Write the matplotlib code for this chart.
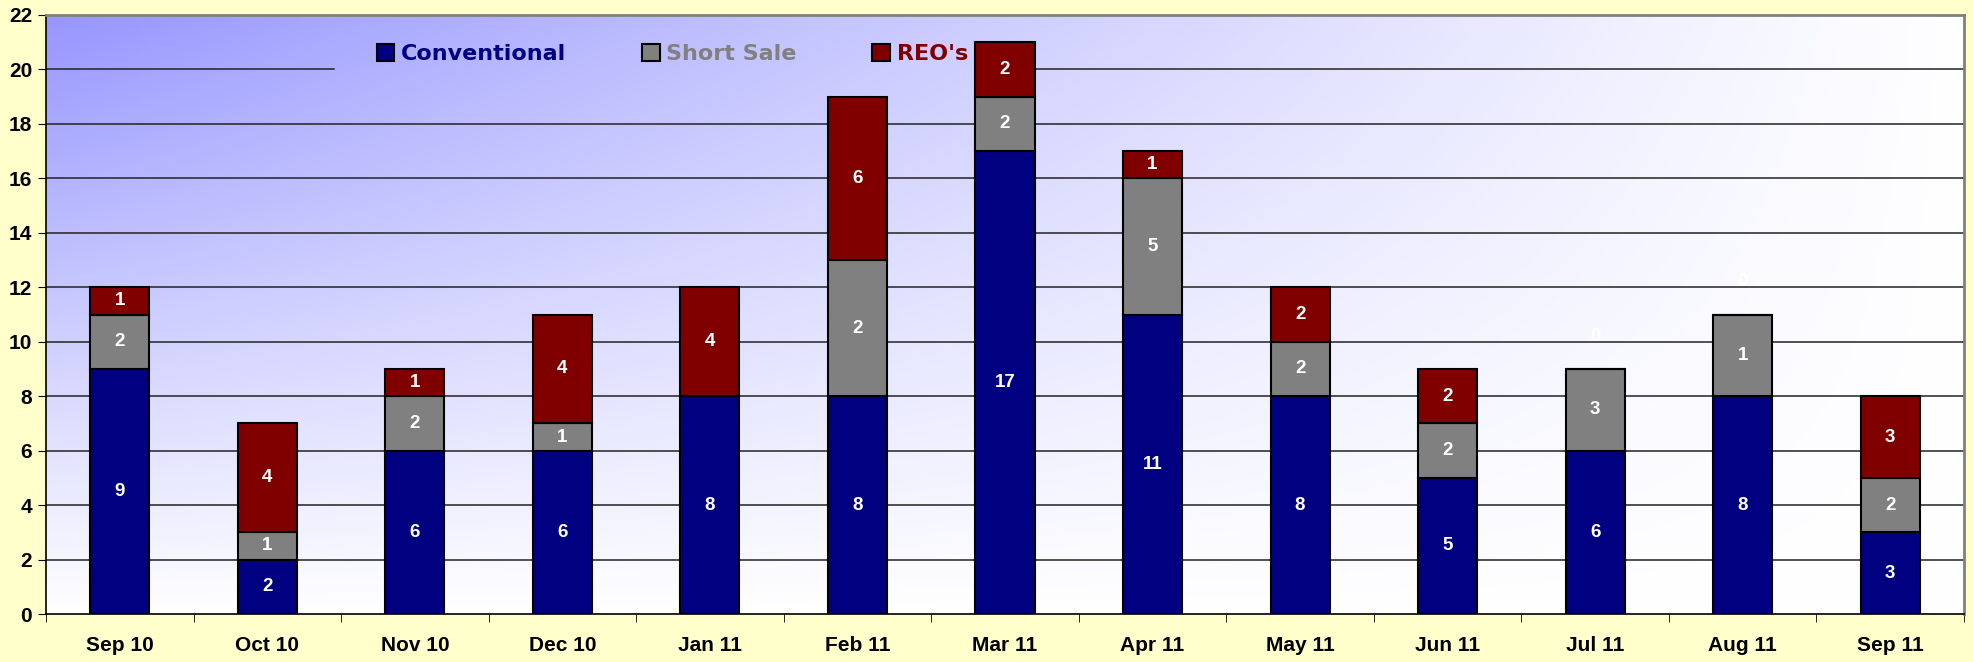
import matplotlib.pyplot as plt
import numpy as np

months = ['Sep 10', 'Oct 10', 'Nov 10', 'Dec 10', 'Jan 11', 'Feb 11', 'Mar 11',
          'Apr 11', 'May 11', 'Jun 11', 'Jul 11', 'Aug 11', 'Sep 11']
conventional = [9, 2, 6, 6, 8, 8, 17, 11, 8, 5, 6, 8, 3]
short_sale = [2, 1, 2, 1, 0, 5, 2, 5, 2, 2, 3, 3, 2]
reo = [1, 4, 1, 4, 4, 6, 2, 1, 2, 2, 0, 0, 3]
# labels as printed on the chart (a few don't match the bar heights)
short_labels = ['2', '1', '2', '1', '', '2', '2', '5', '2', '2', '3', '1', '2']
reo_labels = ['1', '4', '1', '4', '4', '6', '2', '1', '2', '2', '0', '0', '3']

NAVY = '#000080'
GREY = '#808080'
MAROON = '#800000'

plt.rcParams['font.family'] = ['Liberation Sans', 'DejaVu Sans']

fig = plt.figure(figsize=(19.73, 6.62), dpi=100, facecolor='#FFFFCC')
ax = fig.add_axes([46 / 1973, 48 / 662, 1918 / 1973, 599 / 662])

x = np.arange(len(months))
ax.set_xlim(-0.5, len(months) - 0.5)

# gradient background, dark lavender top-left fading to white
gx, gy = np.meshgrid(np.linspace(0, 1, 400), np.linspace(0, 1, 200))
blend = np.clip((1 - gx) ** 1.1 * (1 - gy) ** 1.0, 0, 1)
c0 = np.array([150, 150, 255]) / 255.0
img = np.ones((200, 400, 3)) - blend[..., None] * (1 - c0)
ax.imshow(img, extent=[-0.5, len(months) - 0.5, 0, 22], aspect='auto', zorder=0)
ax.set_ylim(0, 22)

# gridlines (the 20 line is hidden behind the legend box)
for g in range(2, 22, 2):
    if g == 20:
        ax.plot([-0.5, 1.45], [g, g], color='#222222', lw=1.1, zorder=1)
        ax.plot([5.85, len(months) - 0.5], [g, g], color='#222222', lw=1.1, zorder=1)
    else:
        ax.axhline(g, color='#222222', lw=1.1, zorder=1)

w = 0.4
b1 = ax.bar(x, conventional, w, color=NAVY, edgecolor='black', lw=1.5, zorder=3, label='Conventional')
bottom2 = np.array(conventional)
b2 = ax.bar(x, short_sale, w, bottom=bottom2, color=GREY, edgecolor='black', lw=1.5, zorder=3, label='Short Sale')
bottom3 = bottom2 + np.array(short_sale)
b3 = ax.bar(x, reo, w, bottom=bottom3, color=MAROON, edgecolor='black', lw=1.5, zorder=3, label="REO's")

lab = dict(color='white', fontsize=13.5, fontweight='bold', ha='center', va='center', zorder=4)
for i in range(len(months)):
    ax.text(x[i], conventional[i] / 2, str(conventional[i]), **lab)
    if short_labels[i]:
        ax.text(x[i], bottom2[i] + short_sale[i] / 2, short_labels[i], **lab)
    if reo[i] > 0:
        ax.text(x[i], bottom3[i] + reo[i] / 2, reo_labels[i], **lab)
    else:
        ax.text(x[i], bottom3[i] + 1.2, reo_labels[i], **lab)

ax.set_yticks(range(0, 23, 2))
ax.set_xticks(x)
ax.set_xticklabels(months)
ax.set_xticks(np.arange(-0.5, len(months), 1), minor=True)
ax.tick_params(axis='x', which='major', length=0, pad=16, labelsize=15)
ax.tick_params(axis='x', which='minor', length=6, color='black')
ax.tick_params(axis='y', length=6, labelsize=15, pad=4)
for t in ax.get_xticklabels() + ax.get_yticklabels():
    t.set_fontweight('bold')

for s in ['left', 'bottom']:
    ax.spines[s].set_color('black')
    ax.spines[s].set_linewidth(1.2)
for s in ['top', 'right']:
    ax.spines[s].set_color('#808080')
    ax.spines[s].set_linewidth(2)

leg = ax.legend(handles=[b1, b2, b3], loc='upper left', bbox_to_anchor=(0.162, 0.985),
                ncol=3, frameon=False, columnspacing=3.4,
                handlelength=0.8, handleheight=0.8, handletextpad=0.3,
                prop={'family': 'DejaVu Sans', 'size': 16, 'weight': 'bold'})
leg.set_zorder(5)
for t, c in zip(leg.get_texts(), [NAVY, GREY, MAROON]):
    t.set_color(c)

fig.savefig('out.png', dpi=100, facecolor=fig.get_facecolor())
